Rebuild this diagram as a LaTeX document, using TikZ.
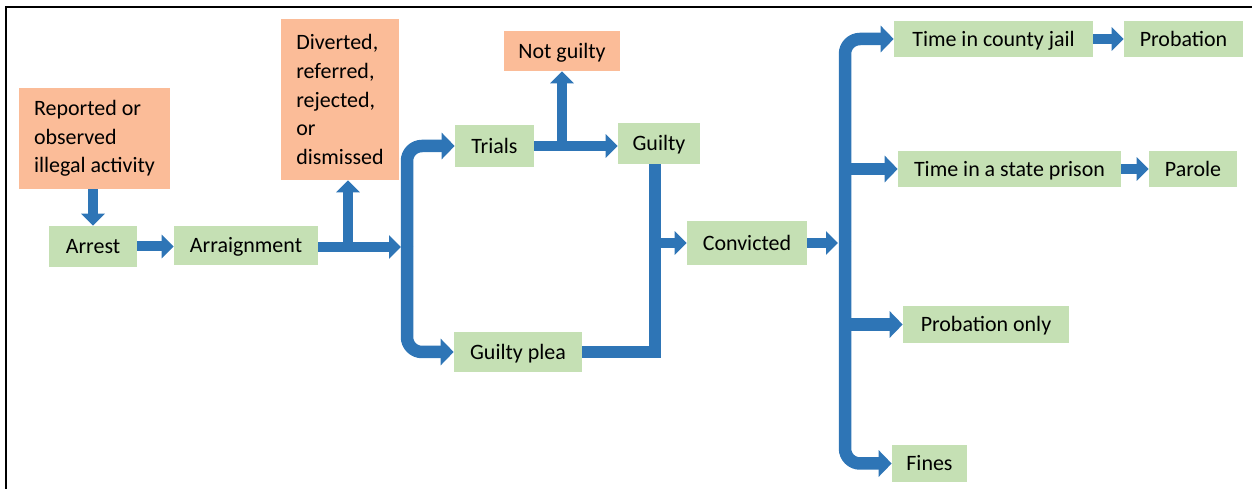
\documentclass[tikz,border=0pt]{standalone}
\usepackage{fontspec}
\setmainfont{Carlito}
\usetikzlibrary{arrows.meta}
\definecolor{boxgreen}{HTML}{C5E0B4}
\definecolor{boxorange}{HTML}{FBBC98}
\definecolor{flowblue}{HTML}{2E75B6}

\begin{document}
\begin{tikzpicture}[x=0.02cm, y=-0.02cm]

\tikzstyle{every node}=[font=\fontsize{12.5}{16.3}\selectfont]
\tikzstyle{stage} = [rectangle, fill=boxgreen, inner sep=0pt, text centered, text height=8pt, text depth=0pt]
\tikzstyle{outcome} = [rectangle, fill=boxorange, inner sep=0pt, align=left]
\tikzstyle{flow} = [draw=flowblue, line width=0.2cm, -{Triangle[length=0.24cm, width=0.46cm]}]
\tikzstyle{bigflow} = [draw=flowblue, line width=0.25cm, rounded corners=0.3cm, -{Triangle[length=0.26cm, width=0.52cm]}]
\tikzstyle{pipe} = [draw=flowblue, line width=0.24cm]

\useasboundingbox (0,0) rectangle (1252,489);
\draw[line width=0.045cm] (1252,7) -| (6,489);

% Nodes
\node[outcome, minimum width=3.02cm, minimum height=2.02cm] (reported) at (94.5,138.5) {Reported or\\observed\\illegal activity};
\node[stage, minimum width=1.76cm, minimum height=0.82cm] (arrest) at (93,246.5) {Arrest};
\node[stage, minimum width=2.88cm, minimum height=0.78cm] (arraign) at (246,245.5) {Arraignment};
\node[outcome, minimum width=2.36cm, minimum height=3.22cm] (diverted) at (340,99.5) {Diverted,\\referred,\\rejected,\\or\\dismissed};
\node[stage, minimum width=1.58cm, minimum height=0.84cm] (trials) at (494.5,146) {Trials};
\node[outcome, minimum width=2.32cm, minimum height=0.80cm, align=center, text height=8pt, text depth=0pt] (notguilty) at (562,51) {Not guilty};
\node[stage, minimum width=1.64cm, minimum height=0.82cm] (guilty) at (659,143.5) {Guilty};
\node[stage, minimum width=2.56cm, minimum height=0.80cm] (plea) at (518,352) {Guilty plea};
\node[stage, minimum width=2.40cm, minimum height=0.88cm] (convicted) at (747,243) {Convicted};
\node[stage, minimum width=3.98cm, minimum height=0.72cm] (jail) at (993.5,39) {Time in county jail};
\node[stage, minimum width=2.38cm, minimum height=0.72cm] (probation) at (1183.5,39) {Probation};
\node[stage, minimum width=4.46cm, minimum height=0.72cm] (prison) at (1009.5,169) {Time in a state prison};
\node[stage, minimum width=1.76cm, minimum height=0.72cm] (parole) at (1193,169) {Parole};
\node[stage, minimum width=3.32cm, minimum height=0.74cm] (probonly) at (986,324.5) {Probation only};
\node[stage, minimum width=1.50cm, minimum height=0.74cm] (fines) at (929.5,463.5) {Fines};

% Forks
\coordinate (fork1) at (401,247);
\coordinate (bar1) at (407,247);
\coordinate (split1) at (348,247);
\coordinate (fork2) at (838,242);
\coordinate (bar2) at (845,242);

% Lines
\draw[flow] (arrest.north |- reported.south) -- (arrest.north);
\draw[flow] (arrest.east) -- (arrest.east -| arraign.west);
\draw[flow] (arraign.east |- fork1) -- (fork1);
\draw[flow] (split1) -- (split1 |- diverted.south);
\draw[bigflow] (bar1) |- (trials.west);
\draw[bigflow] (bar1) |- (plea.west);
\draw[flow] (trials.east) -- (trials.east -| guilty.west);
\draw[flow] (notguilty.south |- trials.east) -- (notguilty.south);
\draw[pipe] (plea.east) -| ([xshift=-0.08cm]guilty.south);
\draw[flow] ([xshift=-0.08cm]guilty.south |- convicted.west) -- (convicted.west);
\draw[flow] (convicted.east) -- (convicted.east -| fork2);
\draw[bigflow] (bar2) |- (jail.west);
\draw[bigflow] (bar2 |- prison.west) -- (prison.west);
\draw[bigflow] (bar2 |- probonly.west) -- (probonly.west);
\draw[bigflow] (bar2) |- (fines.west);
\draw[flow] (jail.east) -- (probation.west);
\draw[flow] (prison.east) -- (parole.west);

\end{tikzpicture}
\end{document}
